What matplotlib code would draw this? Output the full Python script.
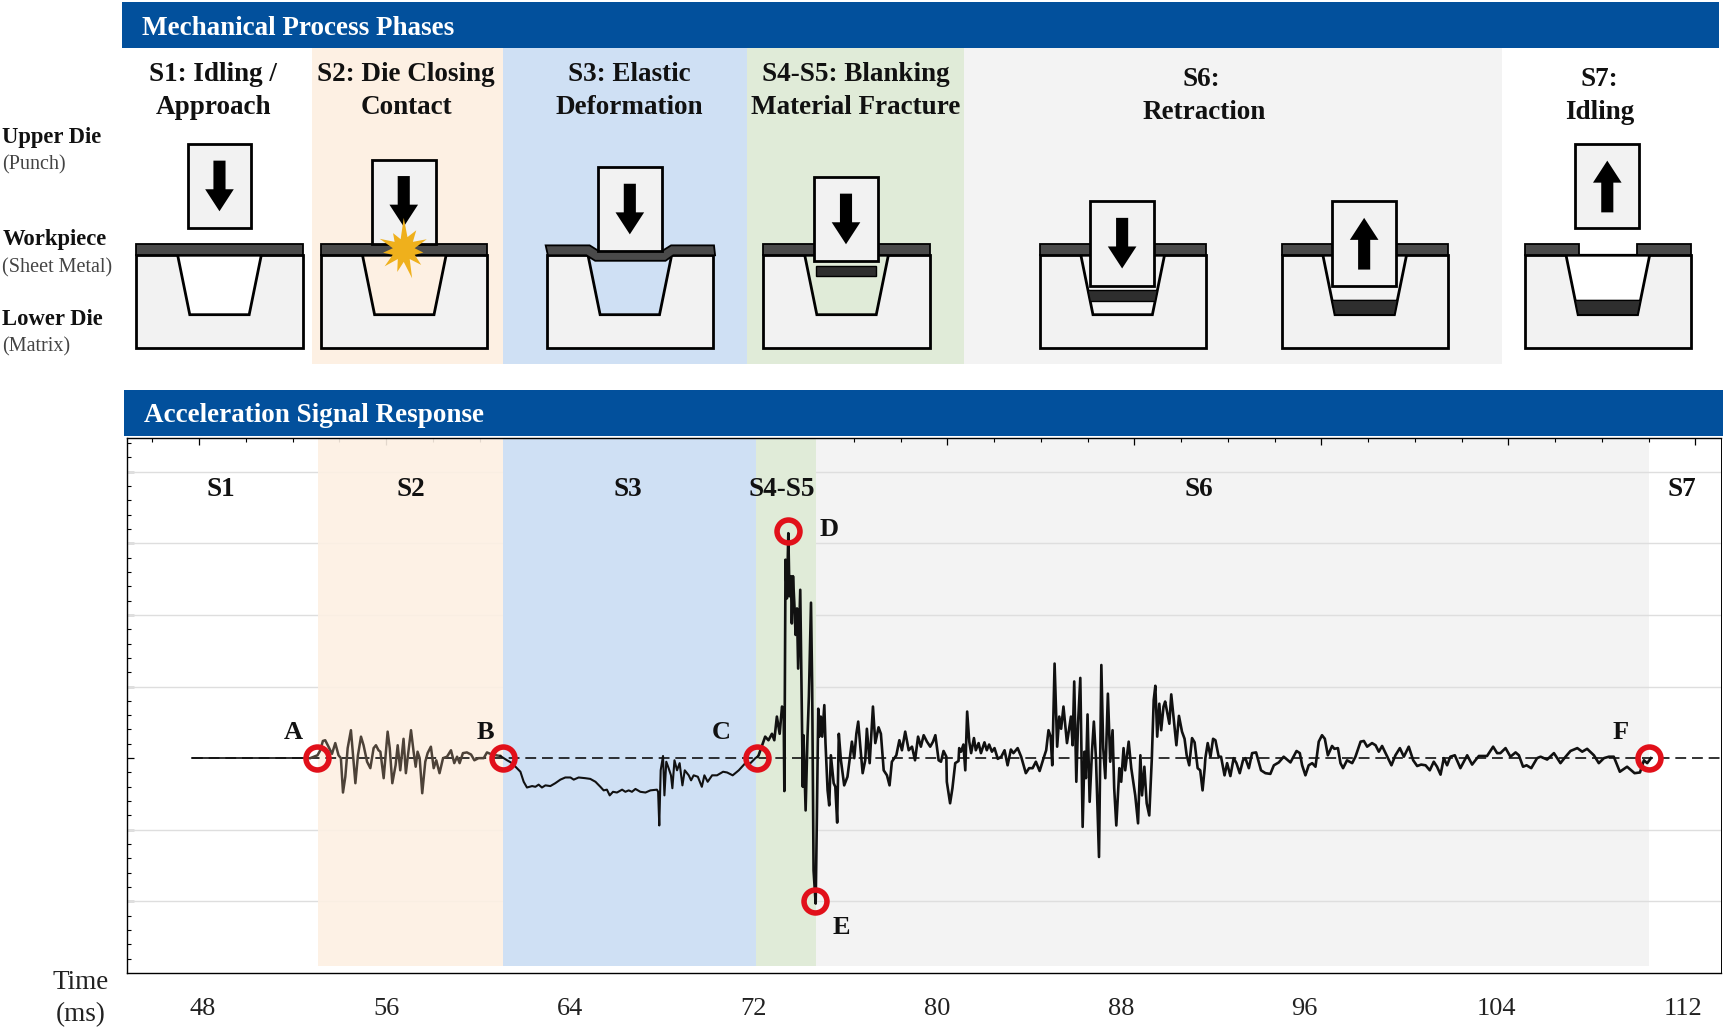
import matplotlib
matplotlib.use('Agg')
import matplotlib.pyplot as plt
import numpy as np
from matplotlib.patches import Rectangle, Polygon
from matplotlib.ticker import MultipleLocator

plt.rcParams['font.family'] = ['Liberation Serif', 'DejaVu Serif']

# ---- signal (ms, amplitude: 100 = one grid division)
t_s1 = [47.7, 52.75]
a_s1 = [0, 0]

t_s2 = [52.75, 53.06, 53.18, 53.29, 53.39, 53.53, 53.68, 53.82, 53.96, 54.06, 54.15, 54.25, 54.35, 54.49, 54.58, 54.68,
        54.79, 54.92, 55.03, 55.18, 55.32, 55.46, 55.56, 55.67, 55.75, 55.89, 56.06, 56.15, 56.26, 56.40, 56.49, 56.60,
        56.74, 56.84, 56.93, 57.06, 57.17, 57.26, 57.34, 57.43, 57.54, 57.67, 57.77, 57.91, 58.03, 58.14, 58.28, 58.43,
        58.60, 58.77, 58.91, 59.03, 59.14, 59.28, 59.45, 59.63, 59.77, 59.95, 60.17, 60.31, 60.52, 60.88]
a_s2 = [0, 4, 11, 24, 25, 16, 6, 21, 4, 0, -48, -26, 14, 39, 4, -35,
        4, 30, 18, -5, -14, 14, 18, 11, 9, -28, 37, 14, -35, -10, 18, -17,
        27, -21, 4, 39, 9, -12, 9, 0, -49, -5, 7, 16, -14, -3, -21, 0,
        2, 11, -7, 2, -7, 7, 8, 5, -3, 0, 0, 8, 5, 3]

t_s3 = [60.88, 61.17, 61.38, 61.59, 61.74, 61.88, 62.02, 62.24, 62.38, 62.52, 62.66, 62.81, 63.02, 63.23, 63.45, 63.66,
        63.88, 64.02, 64.23, 64.52, 64.73, 64.95, 65.16, 65.30, 65.44, 65.56, 65.70, 65.87, 66.09, 66.23, 66.37, 66.51,
        66.66, 66.87, 67.09, 67.30, 67.58, 67.63, 67.68, 67.74, 67.84, 67.90, 67.98, 68.08, 68.18, 68.24, 68.33, 68.44,
        68.55, 68.67, 68.77, 68.94, 69.04, 69.15, 69.33, 69.50, 69.61, 69.75, 69.94, 70.15, 70.41, 70.58, 70.82, 71.08,
        71.36, 71.58, 71.79, 71.89]
a_s3 = [3, -3, -7, -14, -19, -33, -41, -39, -40, -37, -41, -38, -39, -35, -30, -27,
        -27, -30, -27, -28, -29, -33, -40, -45, -44, -52, -47, -48, -44, -47, -45, -47,
        -43, -47, -48, -45, -44, -47, -94, -17, 3, -52, -5, -14, -24, -42, -3, -17,
        -7, -38, -17, -24, -31, -24, -26, -40, -24, -33, -24, -24, -19, -20, -24, -17,
        -7, -7, 0, 2]

t_s4s5 = [71.93, 72.11, 72.21, 72.35, 72.50, 72.60, 72.71, 72.83, 72.93, 73.0, 73.03, 73.08, 73.14, 73.20, 73.25, 73.31,
          73.35, 73.40, 73.47, 73.51, 73.57, 73.62, 73.71, 73.78, 73.82, 73.85, 73.94, 74.02, 74.08, 74.17, 74.22, 74.28,
          74.37]
a_s4s5 = [4, 21, 30, 25, 34, 25, 58, 34, 72, 67, -46, 277, 223, 314, 226, 254,
          188, 254, 207, 172, 209, 125, 235, 53, -40, 32, -73, 30, 86, 217, 100, -157,
          -203]

t_s6 = [74.42, 74.48, 74.52, 74.59, 74.65, 74.74, 74.79, 74.88, 74.95, 75.02, 75.14, 75.21, 75.29, 75.36, 75.45, 75.59,
        75.73, 75.82, 75.92, 76.02, 76.11, 76.19, 76.28, 76.38, 76.49, 76.56, 76.68, 76.82, 76.92, 77.06, 77.16, 77.28,
        77.42, 77.53, 77.63, 77.82, 77.95, 78.06, 78.20, 78.35, 78.49, 78.62, 78.75, 78.87, 78.99, 79.13, 79.27, 79.39,
        79.49, 79.63, 79.73, 79.84, 79.96,
        79.98, 80.12, 80.22, 80.34, 80.48, 80.51, 80.59, 80.69, 80.77, 80.85, 80.94, 81.02, 81.14, 81.22, 81.34, 81.44,
        81.59, 81.69, 81.79, 81.91, 82.02, 82.16, 82.31, 82.45, 82.58, 82.72, 82.83, 83.01, 83.16, 83.36, 83.50, 83.65,
        83.79, 83.95, 84.12, 84.23, 84.33, 84.42, 84.49, 84.59, 84.70, 84.79, 84.87, 84.97, 85.12, 85.29, 85.36, 85.43,
        85.52, 85.59, 85.69, 85.79, 85.87, 85.93, 86.0, 86.09, 86.19, 86.27, 86.36, 86.49, 86.59, 86.67, 86.76, 86.87,
        86.97, 87.07, 87.14, 87.23, 87.36, 87.44, 87.54, 87.61, 87.76, 87.87, 88.04, 88.16, 88.26, 88.33, 88.43, 88.53,
        88.64, 88.75, 88.83, 88.90, 88.98, 89.07, 89.15, 89.25, 89.32, 89.50, 89.58, 89.70, 89.80, 89.91, 90.04, 90.15,
        90.24, 90.35, 90.47, 90.58, 90.71, 90.82, 90.92, 91.01,
        91.04, 91.14, 91.26, 91.37, 91.47, 91.61, 91.71, 91.86, 91.97, 92.11, 92.25, 92.37, 92.51, 92.65, 92.75, 92.90,
        93.04, 93.21, 93.32, 93.42, 93.61, 93.82, 93.97, 94.18, 94.39, 94.68, 94.94, 95.08, 95.18, 95.32, 95.46, 95.61,
        95.75, 95.89, 96.03, 96.15, 96.28, 96.46, 96.56, 96.71, 96.82, 96.93, 97.10, 97.32, 97.46, 97.68, 97.82, 97.96,
        98.17, 98.32, 98.46, 98.60, 98.82, 99.00, 99.17, 99.36, 99.53, 99.74, 99.93, 100.10, 100.27, 100.46, 100.64,
        100.81, 100.95, 101.10, 101.24, 101.38, 101.52, 101.71, 101.95, 102.24, 102.45, 102.59, 102.74, 103.09, 103.35,
        103.52, 103.66, 103.88, 104.09, 104.31, 104.45, 104.63, 104.78, 104.98, 105.23, 105.38, 105.66, 105.95, 106.23,
        106.45, 106.66, 106.95, 107.16, 107.37, 107.66, 107.87, 108.09, 108.30, 108.51, 108.77, 109.08, 109.40, 109.63,
        109.80, 109.94, 110.10]
a_s6 = [-87, 69, 30, 58, 30, 74, 21, -45, -66, 4, -35, -40, -90, 34, -3, -38,
        -26, -3, 23, 0, 34, 51, 16, -21, -3, 41, -7, 72, 21, 43, 34, -17,
        -24, -38, -5, 4, 25, 11, 37, 11, 16, -3, 30, 16, 32, 23, 16, 23,
        32, -3, -5, 10, 2,
        -33, -63, -42, -7, -4, 14, 9, 19, -17, 65, 23, 7, 28, 11, 21, 7,
        22, 11, 19, 9, 14, -1, 2, 11, -10, 12, 7, 14, 2, -21, -14, -14,
        -5, -18, 0, 11, 39, 30, -10, 132, 16, 58, 41, 72, 21, 58, 18, 107,
        -33, 46, 112, -96, 9, -28, 61, -61, 9, 51, 0, -138, 130, 14, -28, 90,
        -5, 39, -42, -94, -14, -33, 14, -17, 23, -14, -52, -91, 4, -52, -12, -63,
        -80, 0, 81, 101, 30, 76, 39, 72, 79, 48, 89, 51, 18, 59, 37, 27,
        4, -10, 28, 22, -14, -17, -45, -14,
        0, 21, 2, 27, 25, 2, 2, -24, -7, -25, 0, -7, -21, -3, 0, -14,
        7, 8, -5, -17, -21, -22, -10, -6, 2, -6, 10, 7, -10, -24, -10, -7,
        -12, 23, 32, 27, 4, 17, 13, 14, -7, -14, -3, -7, 2, 23, 24, 16,
        21, 18, 9, 17, 2, -10, 4, 14, 2, 16, -3, -11, -9, -10, -17,
        -5, -12, -23, 0, -10, 2, 4, -14, 4, -9, -3, 3, 3, 16,
        7, 7, 14, 2, 8, 4, -12, -10, -14, 0, 2, -2, 7, -7,
        2, 10, 14, 9, 13, 4, -7, 0, 2, 2, -19, -12, -21, -20,
        -3, -7, 0]

# red marker points A-F
event_t = [53.05, 61.0, 71.87, 73.2, 74.35, 110.03]
event_a = [0, 0, 0, 317, -200, 0]
event_names = ['A', 'B', 'C', 'D', 'E', 'F']

# phase limits in the signal panel (ms)
phase_edges = {'S2': (53.1, 61.0), 'S3': (61.0, 71.83), 'S4': (71.83, 74.4), 'S6': (74.4, 110.0)}
tick_labels = ['48', '56', '64', '72', '80', '88', '96', '104', '112']

BLUE = '#02509c'
C_S2 = '#fdf0e3'
C_S3 = '#cfe0f4'
C_S4 = '#e0ebd8'
C_S6 = '#f3f3f3'
SHEET = '#4a4a4a'

fig = plt.figure(figsize=(17.25, 10.31), dpi=100)

W, H = 1568.0, 937.0   # layout grid of the overlay


def box(l, t, r, b):
    return [l / W, 1 - b / H, (r - l) / W, (b - t) / H]


# ---- signal panel
ax = fig.add_axes(box(115, 398, 1564, 884), zorder=1)
ax.set_xlim(44.89, 113.08)
ax.set_ylim(-299.5, 447)

for v in [-200, -100, 100, 200, 300, 400]:
    ax.axhline(v, color='#dedede', lw=1.0, zorder=2)
band_y = 0.012
ax.axvspan(*phase_edges['S6'], ymin=band_y, color=C_S6, lw=0, zorder=1)
ax.axvspan(*phase_edges['S2'], ymin=band_y, color=C_S2, alpha=0.9, lw=0, zorder=2.5)
ax.axvspan(*phase_edges['S3'], ymin=band_y, color=C_S3, lw=0, zorder=3)
ax.axvspan(*phase_edges['S4'], ymin=band_y, color=C_S4, lw=0, zorder=3)

ax.plot([t_s1[0], ax.get_xlim()[1]], [0, 0], color='#111111', lw=1.2, ls=(0, (6.5, 3.5)), zorder=4)
ax.plot(t_s1, a_s1, color='#111111', lw=1.2, zorder=5)
ax.plot(t_s2, a_s2, color='#4d4238', lw=1.8, zorder=5)
ax.plot(t_s3, a_s3, color='#111111', lw=1.5, zorder=5)
ax.plot(t_s3[-1:] + t_s4s5 + t_s6, a_s3[-1:] + a_s4s5 + a_s6, color='#111111', lw=1.9, zorder=5)
ax.plot(event_t, event_a, ls='none', marker='o', ms=16.5, mfc='none', mec='#e1101a', mew=4.0, zorder=6)

ax.xaxis.set_major_locator(MultipleLocator(8))
ax.xaxis.set_minor_locator(MultipleLocator(2))
ax.yaxis.set_major_locator(MultipleLocator(100))
ax.yaxis.set_minor_locator(MultipleLocator(20))
ax.tick_params(which='major', direction='in', length=5, width=0.9, top=True, bottom=False, labelbottom=False, labelleft=False)
ax.tick_params(which='minor', direction='in', length=3, width=0.8, top=True, bottom=False)
for s in ax.spines.values():
    s.set_linewidth(1.0)
    s.set_zorder(7)
ax.spines['right'].set_linewidth(0.7)

# ---- overlay: headers, schematics and all text
ov = fig.add_axes([0, 0, 1, 1], zorder=2)
ov.set_xlim(0, W)
ov.set_ylim(H, 0)
ov.axis('off')
ov.patch.set_alpha(0)

ov.add_patch(Rectangle((111, 2), 1452, 42, fc=BLUE, ec='none'))
ov.add_patch(Rectangle((113, 354), 1453, 42, fc=BLUE, ec='none'))
ov.text(129, 26, 'Mechanical Process Phases', color='white', fontsize=19.5, fontweight='bold', va='center')
ov.text(131, 378, 'Acceleration Signal Response', color='white', fontsize=19.5, fontweight='bold', va='center')

for l, r, c in [(284, 457, C_S2), (457, 679, C_S3), (679, 876, C_S4), (876, 1365, C_S6)]:
    ov.add_patch(Rectangle((l, 44), r - l, 287, fc=c, ec='none', zorder=1))

LW = 2.0


def cavity_half(y):
    return 38 - (y - 232) / 54.0 * 11


def down_arrow(cx, top):
    pts = [(cx - 5.5, top + 15), (cx + 5.5, top + 15), (cx + 5.5, top + 41), (cx + 13, top + 41),
           (cx, top + 61), (cx - 13, top + 41), (cx - 5.5, top + 41)]
    ov.add_patch(Polygon(pts, fc='black', ec='none', zorder=6))


def up_arrow(cx, top):
    pts = [(cx, top + 15), (cx + 13, top + 35), (cx + 5.5, top + 35), (cx + 5.5, top + 62),
           (cx - 5.5, top + 62), (cx - 5.5, top + 35), (cx - 13, top + 35)]
    ov.add_patch(Polygon(pts, fc='black', ec='none', zorder=6))


def die(l, fill, sheet=True):
    cx = l + 75.5
    ov.add_patch(Rectangle((l, 232), 151, 84, fc='#f2f2f2', ec='black', lw=LW, zorder=2))
    ov.add_patch(Polygon([(cx - 38, 232), (cx + 38, 232), (cx + 27, 286), (cx - 27, 286)],
                         fc=fill, ec='black', lw=LW, zorder=3))
    if sheet:
        ov.add_patch(Rectangle((l, 222), 151, 10, fc=SHEET, ec='black', lw=1.3, zorder=4))
    return cx


def slug(cx, y0, y1):
    a, b = cavity_half(y0), cavity_half(y1)
    ov.add_patch(Polygon([(cx - a, y0), (cx + a, y0), (cx + b, y1), (cx - b, y1)],
                         fc='#2e2e2e', ec='black', lw=1.0, zorder=4))


def punch(cx, top, bottom):
    ov.add_patch(Rectangle((cx - 29, top), 58, bottom - top, fc='#f2f2f2', ec='black', lw=LW, zorder=5))


# S1
c = die(124, 'white')
punch(c, 131, 207)
down_arrow(c, 131)
# S2
c = die(292, C_S2)
punch(c - 0.5, 145, 222)
down_arrow(c - 0.5, 145)
star_r = [29, 12, 21, 11, 23, 10, 18, 11, 21, 10, 27, 11, 21, 10, 23, 11, 19, 10, 24, 11, 18, 10]
ang = np.linspace(-np.pi / 2, 1.5 * np.pi, len(star_r), endpoint=False)
ov.add_patch(Polygon(np.c_[367 + np.array(star_r) * np.cos(ang), 227 + np.array(star_r) * np.sin(ang)],
                     fc='#efb01c', ec='none', zorder=7))
# S3, sheet pressed down under the punch
c = die(497, C_S3, sheet=False)
ov.add_patch(Polygon([(496, 223), (536, 223), (544, 228), (602, 228), (610, 223), (649, 223), (650, 232),
                      (612, 232), (605, 237), (541, 237), (533, 232), (498, 232)],
                     fc=SHEET, ec='black', lw=1.3, zorder=4))
punch(c, 152, 228)
down_arrow(c, 152)
# S4-S5
c = die(694, C_S4)
punch(c - 0.5, 161, 237)
down_arrow(c - 0.5, 161)
ov.add_patch(Rectangle((c - 28, 242), 55, 9, fc='#2e2e2e', ec='black', lw=1.0, zorder=4))
# S6 going down
c = die(945, C_S6)
slug(c, 264, 274)
punch(c - 0.5, 183, 260)
down_arrow(c - 0.5, 183)
# S6 going up
c = die(1165, C_S6)
slug(c, 273, 286)
punch(c - 0.5, 183, 260)
up_arrow(c - 0.5, 183)
# S7, hole left in the sheet
c = die(1386, 'white', sheet=False)
ov.add_patch(Rectangle((1386, 222), 49, 10, fc=SHEET, ec='black', lw=1.3, zorder=4))
ov.add_patch(Rectangle((1488, 222), 49, 10, fc=SHEET, ec='black', lw=1.3, zorder=4))
slug(c, 273, 286)
punch(c - 0.5, 131, 207)
up_arrow(c - 0.5, 131)

titles = [(194, 68, 'S1: Idling /'), (194, 98, 'Approach'), (369, 68, 'S2: Die Closing'), (369, 98, 'Contact'),
          (572, 68, 'S3: Elastic'), (572, 98, 'Deformation'), (778, 68, 'S4-S5: Blanking'),
          (778, 98, 'Material Fracture'), (1092, 72, 'S6:'), (1095, 102, 'Retraction'), (1454, 72, 'S7:'),
          (1454, 102, 'Idling')]
for x, y, s in titles:
    ov.text(x, y, s, ha='center', va='center', fontsize=19.5, fontweight='bold', color='#111111')

for y, s in [(125, 'Upper Die'), (218, 'Workpiece'), (290, 'Lower Die')]:
    ov.text(2, y, s, va='center', fontsize=16.3, fontweight='bold', color='#111111')
for y, s in [(150, '(Punch)'), (243, '(Sheet Metal)'), (315, '(Matrix)')]:
    ov.text(2, y, s, va='center', fontsize=14.5, color='#444444')

for x, s in [(201, 'S1'), (373, 'S2'), (571, 'S3'), (711, 'S4-S5'), (1090, 'S6'), (1529, 'S7')]:
    ov.text(x, 445, s, ha='center', va='center', fontsize=19.5, fontweight='bold', color='#111111')

for (x, y), s in zip([(267, 666), (441, 666), (656, 666), (754, 481), (765, 843), (1473, 666)], event_names):
    ov.text(x, y, s, ha='center', va='center', fontsize=19, fontweight='bold', color='#111111')

# the tick labels sit a little left of their ticks in the reference
for x, s in zip([184, 351, 518, 685, 852, 1019, 1186, 1360, 1530], tick_labels):
    ov.text(x, 917, s, ha='center', va='center', fontsize=19, color='#222222')
ov.text(73, 893, 'Time', ha='center', va='center', fontsize=19.5, color='#222222')
ov.text(73, 922, '(ms)', ha='center', va='center', fontsize=19.5, color='#222222')

fig.savefig('out.png', dpi=100)
